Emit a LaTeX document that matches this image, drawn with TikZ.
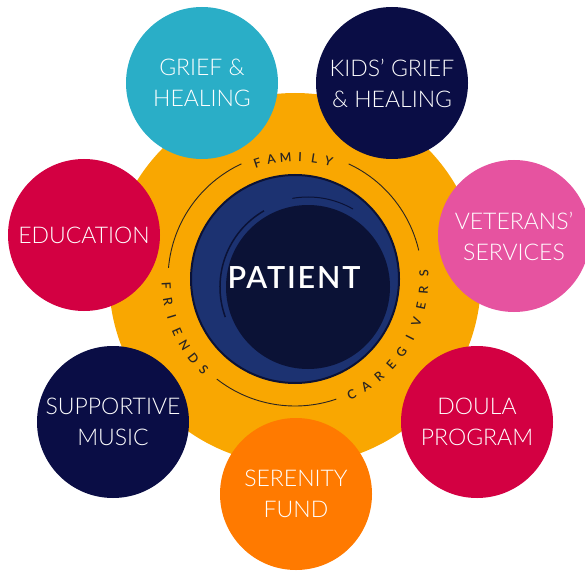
\documentclass[tikz,border=0pt]{standalone}
\usepackage{fontspec}
\setmainfont{Lato}
\newfontfamily\thinfont{Lato Light}
\newfontfamily\semifont{Lato Semibold}
\usetikzlibrary{positioning}
\definecolor{ringorange}{HTML}{F9A701}
\definecolor{griefcyan}{HTML}{2AAEC7}
\definecolor{deepnavy}{HTML}{0A0D45}
\definecolor{crimson}{HTML}{D30042}
\definecolor{rosepink}{HTML}{E653A0}
\definecolor{fundorange}{HTML}{FF7A00}
\definecolor{patblue}{HTML}{1C3271}
\definecolor{patdark}{HTML}{0B1236}
\definecolor{inkgray}{HTML}{2A2522}

\begin{document}
\begin{tikzpicture}[%
    x=1pt, y=1pt,
    bubble/.style={circle, minimum size=152pt, inner sep=0pt, text=white,
      align=center, font=\thinfont\fontsize{23}{31}\selectfont},
    ringletter/.style={inner sep=0pt, text=inkgray,
      font=\semifont\fontsize{12.5}{14}\selectfont},
    ringline/.style={draw=inkgray, line width=0.9pt}
  ]
    \useasboundingbox (0,0) rectangle (585,571);

    \coordinate (c) at (295,292);
    \node [circle, fill=ringorange, minimum size=372pt, inner sep=0pt] (ring) at (c) {};

    % satellites
    \node [bubble, fill=griefcyan] (grief) at (202,488) {GRIEF \&\\HEALING};
    \node [bubble, fill=deepnavy] (kids) at (392,488) {KIDS’ GRIEF\\\& HEALING};
    \node [bubble, fill=crimson] (edu) at (84,336) {EDUCATION};
    \node [bubble, fill=rosepink] (vets) at (514,335) {VETERANS’\\SERVICES};
    \node [bubble, fill=deepnavy] (music) at (113,149) {SUPPORTIVE\\MUSIC};
    \node [bubble, fill=fundorange] (fund) at (296,77) {SERENITY\\FUND};
    \node [bubble, fill=crimson] (doula) at (477,149) {DOULA\\PROGRAM};

    % patient disc
    \node [circle, fill=patblue, draw=patdark, line width=2pt,
      minimum size=208pt, inner sep=0pt] (patdisc) at (c) {};
    \fill [patdark] ([shift={(13,-8)}]c) circle (82);
    \draw [patdark, line width=1.5pt] ([shift={(13,-8)}]c) ++(120:88) arc (120:200:88);
    \draw [patdark, line width=1pt] ([shift={(13,-8)}]c) ++(60:90) arc (60:100:90);
    \node [text=white, font=\semifont\fontsize{30.5}{34}\selectfont\addfontfeatures{LetterSpace=6}]
      (patient) at ([shift={(-1,1)}]c) {PATIENT};

    % thin ring arcs
    \draw [ringline] (c) ++(115:127) arc (115:175:127);
    \draw [ringline] (c) ++(232:127) arc (232:289:127);
    \draw [ringline] (c) ++(13:127) arc (13:65:127);

    % ring words
    \foreach \ch [count=\i] in {F,A,M,I,L,Y} {
      \pgfmathsetmacro\ang{108-(\i-1)*6.8}
      \node [ringletter, rotate=\ang-90] (family\i) at ([shift={(\ang:122)}]c) {\ch};
    }
    \foreach \ch [count=\i] in {F,R,I,E,N,D,S} {
      \pgfmathsetmacro\ang{183+(\i-1)*7}
      \node [ringletter, rotate=\ang+90] (friends\i) at ([shift={(\ang:129)}]c) {\ch};
    }
    \foreach \ch [count=\i] in {C,A,R,E,G,I,V,E,R,S} {
      \pgfmathsetmacro\ang{296+(\i-1)*7.4}
      \node [ringletter, rotate=\ang+90] (carers\i) at ([shift={(\ang:129)}]c) {\ch};
    }
\end{tikzpicture}
\end{document}
